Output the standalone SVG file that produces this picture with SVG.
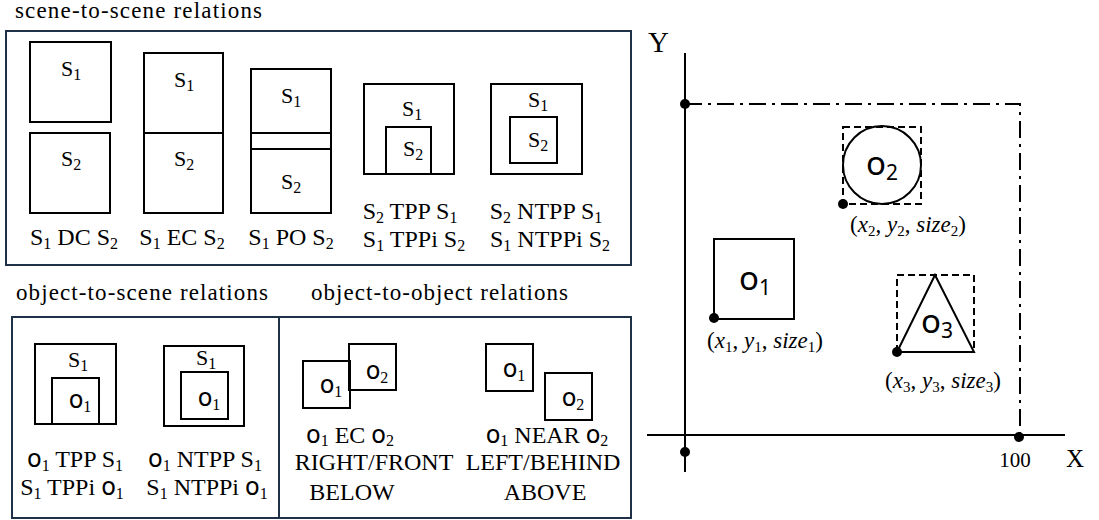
<svg xmlns="http://www.w3.org/2000/svg" width="1099" height="520" viewBox="0 0 1099 520">
  <style>
    .panel { fill: none; stroke: #1f3146; stroke-width: 2; }
    .shape { fill: none; stroke: #000; stroke-width: 2; }
    .dash { fill: none; stroke: #000; stroke-width: 2; stroke-dasharray: 7 4; }
    .dashdot { fill: none; stroke: #000; stroke-width: 2; stroke-dasharray: 17 6 3 6; }
    .axis { fill: none; stroke: #000; stroke-width: 2; }
    .dot { fill: #000; }
    text { font-family: "Liberation Serif", "Times New Roman", serif; fill: #000; }
    .title { font-size: 23px; }
    .lbl { font-size: 24px; }
    .in { font-size: 22px; }
    .s { font-size: 16px; }
    .o { font-family: "DejaVu Sans", "Noto Sans", sans-serif; font-size: 24px; }
    .gs { font-family: "Noto Sans", "Open Sans", sans-serif; }
    .go { font-size: 33px; }
    .gsub { font-size: 21px; }
    .coord { font-size: 23px; }
    .it { font-style: italic; }
    .cs { font-size: 15px; font-style: normal; }
  </style>

  <!-- section titles -->
  <text class="title" x="15" y="18" textLength="247" lengthAdjust="spacing">scene-to-scene relations</text>
  <text class="title" x="16" y="300" textLength="252" lengthAdjust="spacing">object-to-scene relations</text>
  <text class="title" x="311" y="300" textLength="257" lengthAdjust="spacing">object-to-object relations</text>

  <!-- scene-to-scene panel -->
  <g id="panel-scene-scene">
    <rect class="panel" x="6" y="31" width="625" height="234"/>
  </g>

  <g id="rel-dc">
    <rect class="shape" x="30" y="42" width="81" height="80"/>
    <rect class="shape" x="30" y="133" width="80" height="80"/>
    <text class="in" x="71" y="76" text-anchor="middle">S<tspan class="s" dy="4">1</tspan></text>
    <text class="in" x="71" y="166" text-anchor="middle">S<tspan class="s" dy="4">2</tspan></text>
    <text class="lbl" x="74" y="245" text-anchor="middle">S<tspan class="s" dy="4">1</tspan><tspan dy="-4"> DC S</tspan><tspan class="s" dy="4">2</tspan></text>
  </g>

  <g id="rel-ec">
    <rect class="shape" x="144" y="53" width="79" height="160"/>
    <line class="shape" x1="144" y1="133" x2="223" y2="133"/>
    <text class="in" x="184" y="87" text-anchor="middle">S<tspan class="s" dy="4">1</tspan></text>
    <text class="in" x="184" y="166" text-anchor="middle">S<tspan class="s" dy="4">2</tspan></text>
    <text class="lbl" x="182" y="245" text-anchor="middle">S<tspan class="s" dy="4">1</tspan><tspan dy="-4"> EC S</tspan><tspan class="s" dy="4">2</tspan></text>
  </g>

  <g id="rel-po">
    <rect class="shape" x="251" y="69" width="80" height="144"/>
    <line class="shape" x1="251" y1="133" x2="331" y2="133"/>
    <line class="shape" x1="251" y1="149" x2="331" y2="149"/>
    <text class="in" x="291" y="103" text-anchor="middle">S<tspan class="s" dy="4">1</tspan></text>
    <text class="in" x="291" y="189" text-anchor="middle">S<tspan class="s" dy="4">2</tspan></text>
    <text class="lbl" x="291" y="245" text-anchor="middle">S<tspan class="s" dy="4">1</tspan><tspan dy="-4"> PO S</tspan><tspan class="s" dy="4">2</tspan></text>
  </g>

  <g id="rel-tpp">
    <rect class="shape" x="364" y="84" width="90" height="90"/>
    <rect class="shape" x="386" y="127" width="45" height="47"/>
    <text class="in" x="412" y="116" text-anchor="middle">S<tspan class="s" dy="4">1</tspan></text>
    <text class="in" x="413" y="156" text-anchor="middle">S<tspan class="s" dy="4">2</tspan></text>
    <text class="lbl" x="410" y="219" text-anchor="middle">S<tspan class="s" dy="4">2</tspan><tspan dy="-4"> TPP S</tspan><tspan class="s" dy="4">1</tspan></text>
    <text class="lbl" x="414" y="247" text-anchor="middle">S<tspan class="s" dy="4">1</tspan><tspan dy="-4"> TPPi S</tspan><tspan class="s" dy="4">2</tspan></text>
  </g>

  <g id="rel-ntpp">
    <rect class="shape" x="491" y="84" width="91" height="90"/>
    <rect class="shape" x="510" y="117" width="47" height="46"/>
    <text class="in" x="538" y="107" text-anchor="middle">S<tspan class="s" dy="4">1</tspan></text>
    <text class="in" x="538" y="147" text-anchor="middle">S<tspan class="s" dy="4">2</tspan></text>
    <text class="lbl" x="546" y="219" text-anchor="middle">S<tspan class="s" dy="4">2</tspan><tspan dy="-4"> NTPP S</tspan><tspan class="s" dy="4">1</tspan></text>
    <text class="lbl" x="550" y="247" text-anchor="middle">S<tspan class="s" dy="4">1</tspan><tspan dy="-4"> NTPPi S</tspan><tspan class="s" dy="4">2</tspan></text>
  </g>

  <!-- object-to-scene panel -->
  <g id="panel-object-scene">
    <rect class="panel" x="12" y="317" width="267" height="201"/>
  </g>

  <g id="rel-o-tpp">
    <rect class="shape" x="35" y="344" width="81" height="80"/>
    <rect class="shape" x="52" y="378" width="47" height="46"/>
    <text class="in" x="78" y="367" text-anchor="middle">S<tspan class="s" dy="4">1</tspan></text>
    <text class="in" x="80" y="408" text-anchor="middle"><tspan class="o">o</tspan><tspan class="s" dy="4">1</tspan></text>
    <text class="lbl" x="75" y="467" text-anchor="middle"><tspan class="o">o</tspan><tspan class="s" dy="4">1</tspan><tspan dy="-4"> TPP S</tspan><tspan class="s" dy="4">1</tspan></text>
    <text class="lbl" x="72" y="495" text-anchor="middle">S<tspan class="s" dy="4">1</tspan><tspan dy="-4"> TPPi </tspan><tspan class="o">o</tspan><tspan class="s" dy="4">1</tspan></text>
  </g>

  <g id="rel-o-ntpp">
    <rect class="shape" x="164" y="346" width="80" height="80"/>
    <rect class="shape" x="181" y="372" width="47" height="47"/>
    <text class="in" x="206" y="365" text-anchor="middle">S<tspan class="s" dy="4">1</tspan></text>
    <text class="in" x="209" y="406" text-anchor="middle"><tspan class="o">o</tspan><tspan class="s" dy="4">1</tspan></text>
    <text class="lbl" x="205" y="467" text-anchor="middle"><tspan class="o">o</tspan><tspan class="s" dy="4">1</tspan><tspan dy="-4"> NTPP S</tspan><tspan class="s" dy="4">1</tspan></text>
    <text class="lbl" x="207" y="495" text-anchor="middle">S<tspan class="s" dy="4">1</tspan><tspan dy="-4"> NTPPi </tspan><tspan class="o">o</tspan><tspan class="s" dy="4">1</tspan></text>
  </g>

  <!-- object-to-object panel -->
  <g id="panel-object-object">
    <rect class="panel" x="279" y="317" width="352" height="201"/>
  </g>

  <g id="rel-oo-ec">
    <rect class="shape" x="303" y="361" width="47" height="47"/>
    <rect class="shape" x="349" y="344" width="47" height="46"/>
    <text class="in" x="331" y="393" text-anchor="middle"><tspan class="o">o</tspan><tspan class="s" dy="4">1</tspan></text>
    <text class="in" x="377" y="379" text-anchor="middle"><tspan class="o">o</tspan><tspan class="s" dy="4">2</tspan></text>
    <text class="lbl" x="350" y="443" text-anchor="middle"><tspan class="o">o</tspan><tspan class="s" dy="3">1</tspan><tspan dy="-3"> EC </tspan><tspan class="o">o</tspan><tspan class="s" dy="3">2</tspan></text>
    <text class="lbl" x="374" y="470" text-anchor="middle">RIGHT/FRONT</text>
    <text class="lbl" x="352" y="500" text-anchor="middle">BELOW</text>
  </g>

  <g id="rel-oo-near">
    <rect class="shape" x="486" y="344" width="47" height="47"/>
    <rect class="shape" x="545" y="373" width="47" height="47"/>
    <text class="in" x="514" y="377" text-anchor="middle"><tspan class="o">o</tspan><tspan class="s" dy="4">1</tspan></text>
    <text class="in" x="573" y="406" text-anchor="middle"><tspan class="o">o</tspan><tspan class="s" dy="4">2</tspan></text>
    <text class="lbl" x="547" y="443" text-anchor="middle"><tspan class="o">o</tspan><tspan class="s" dy="3">1</tspan><tspan dy="-3"> NEAR </tspan><tspan class="o">o</tspan><tspan class="s" dy="3">2</tspan></text>
    <text class="lbl" x="543" y="470" text-anchor="middle">LEFT/BEHIND</text>
    <text class="lbl" x="545" y="500" text-anchor="middle">ABOVE</text>
  </g>

  <!-- coordinate plane -->
  <g id="axes">
    <line class="axis" x1="685" y1="53" x2="685" y2="472"/>
    <line class="axis" x1="647" y1="435" x2="1065" y2="435"/>
    <polyline class="dashdot" points="685,104 1020,104 1020,435"/>
    <circle class="dot" cx="685" cy="104" r="5"/>
    <circle class="dot" cx="685" cy="452" r="5"/>
    <circle class="dot" cx="1019" cy="437" r="5"/>
    <text x="648" y="52" font-size="29">Y</text>
    <text x="1066" y="467" font-size="25">X</text>
    <text x="1015" y="467" font-size="21" text-anchor="middle">100</text>
  </g>

  <g id="obj-o2">
    <rect class="dash" x="843" y="127" width="78" height="77"/>
    <circle class="shape" cx="882" cy="165" r="39"/>
    <circle class="dot" cx="843" cy="204" r="5"/>
    <text class="gs go" x="882" y="175" text-anchor="middle">o<tspan class="gsub" dy="5">2</tspan></text>
    <text class="coord" x="908" y="232" text-anchor="middle">(<tspan class="it">x</tspan><tspan class="cs" dy="4">2</tspan><tspan dy="-4">, </tspan><tspan class="it">y</tspan><tspan class="cs" dy="4">2</tspan><tspan dy="-4">, </tspan><tspan class="it">size</tspan><tspan class="cs" dy="4">2</tspan><tspan dy="-4">)</tspan></text>
  </g>

  <g id="obj-o1">
    <rect class="shape" x="714" y="239" width="80" height="80"/>
    <circle class="dot" cx="714" cy="318" r="5"/>
    <text class="gs go" x="755" y="290" text-anchor="middle">o<tspan class="gsub" dy="5">1</tspan></text>
    <text class="coord" x="765" y="348" text-anchor="middle">(<tspan class="it">x</tspan><tspan class="cs" dy="4">1</tspan><tspan dy="-4">, </tspan><tspan class="it">y</tspan><tspan class="cs" dy="4">1</tspan><tspan dy="-4">, </tspan><tspan class="it">size</tspan><tspan class="cs" dy="4">1</tspan><tspan dy="-4">)</tspan></text>
  </g>

  <g id="obj-o3">
    <rect class="dash" x="897" y="275" width="77" height="77"/>
    <polygon class="shape" points="935,275 897,352 974,352"/>
    <circle class="dot" cx="897" cy="352" r="5"/>
    <text class="gs go" x="937" y="333" text-anchor="middle">o<tspan class="gsub" dy="5">3</tspan></text>
    <text class="coord" x="943" y="388" text-anchor="middle">(<tspan class="it">x</tspan><tspan class="cs" dy="4">3</tspan><tspan dy="-4">, </tspan><tspan class="it">y</tspan><tspan class="cs" dy="4">3</tspan><tspan dy="-4">, </tspan><tspan class="it">size</tspan><tspan class="cs" dy="4">3</tspan><tspan dy="-4">)</tspan></text>
  </g>
</svg>
